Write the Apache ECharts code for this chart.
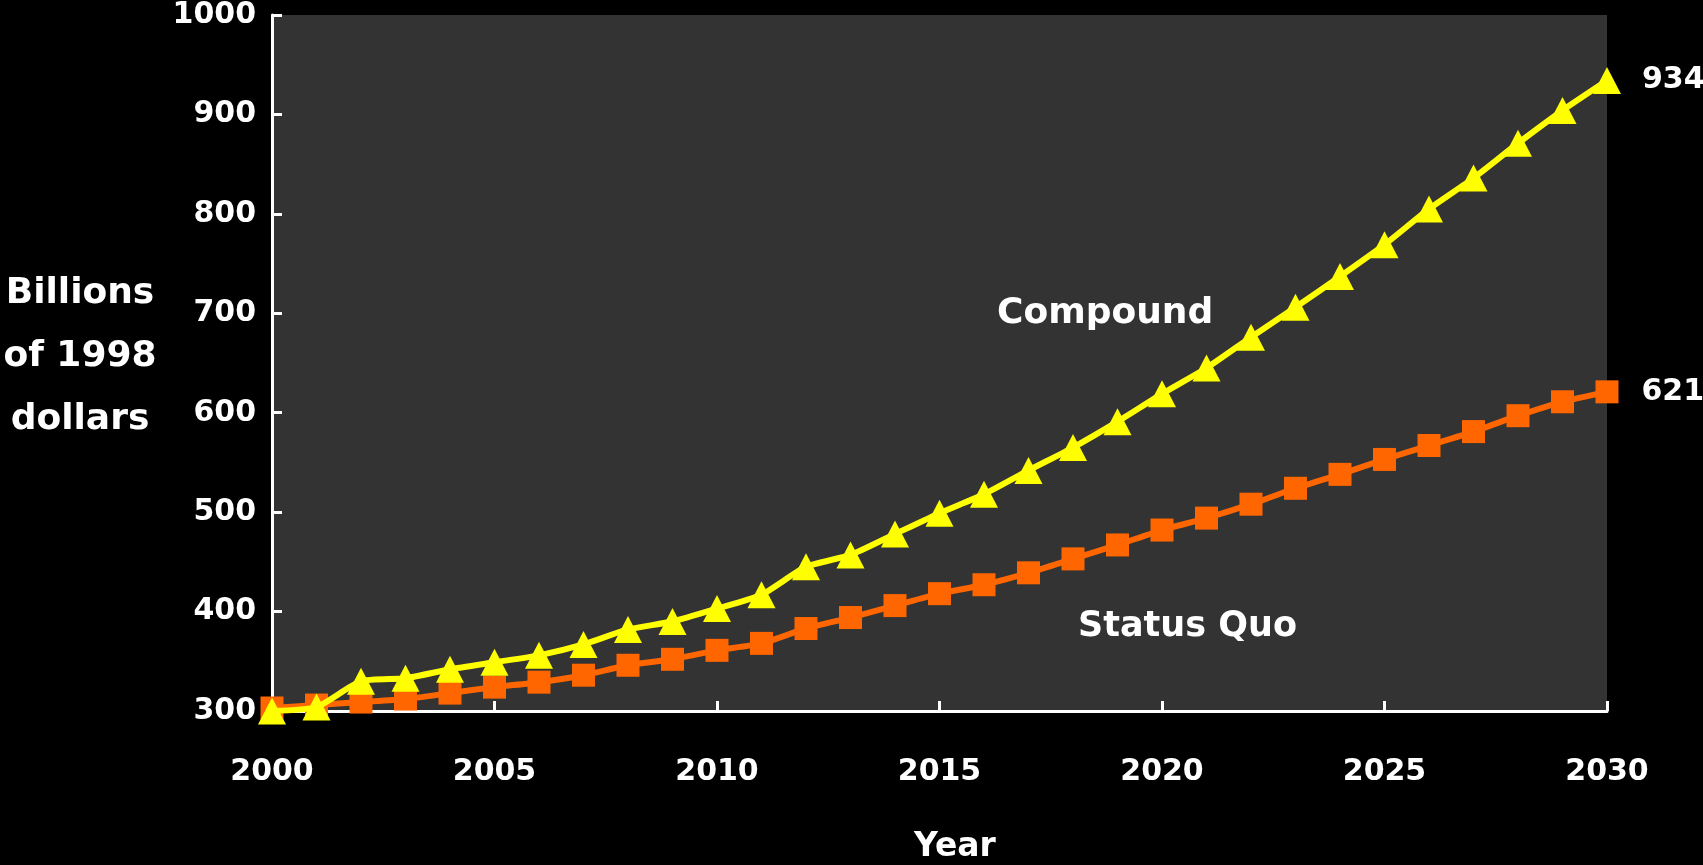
<!DOCTYPE html>
<html>
<head>
<meta charset="utf-8">
<script src="https://cdn.jsdelivr.net/npm/echarts@6/dist/echarts.min.js"></script>
<style>
html,body{margin:0;padding:0;background:#000;}
#c{width:1703px;height:865px;}
</style>
</head>
<body>
<div id="c"></div>
<script>
const years = [2000,2001,2002,2003,2004,2005,2006,2007,2008,2009,2010,2011,2012,2013,2014,2015,2016,2017,2018,2019,2020,2021,2022,2023,2024,2025,2026,2027,2028,2029,2030];
const compound = [300,304,330,333,342,349,356,367,382,390,403,417,445,457,478,499,518,542,565,591,619,645,676,706,737,769,805,836,871,904,934];
const statusQuo = [303,306,309,312,318,324,329,336,346,352,361,368,383,394,406,418,427,439,453,467,482,494,508,524,538,553,567,581,597,611,621];
const yTicks = [300,1000,100];   // min, max, step
const xTicks = [2000,2030,5];
const seriesNames = ['Status Quo','Compound'];
const yTitle = 'Billions\nof 1998\ndollars';
const xTitle = 'Year';

const FONT = '"DejaVu Sans", sans-serif';
const chart = echarts.init(document.getElementById('c'));

function pts(arr){ return years.map((y,i)=>[y,arr[i]]); }
function lastLabel(arr){
  return pts(arr).map((p,i)=> i===arr.length-1 ? {value:p, label:{show:true}} : p);
}

chart.setOption({
  backgroundColor:'#000000',
  animation:false,
  grid:{left:272,right:96,top:13,bottom:154,show:true,backgroundColor:'#333333',borderWidth:0,containLabel:false},
  xAxis:{
    type:'value', min:xTicks[0], max:xTicks[1], interval:xTicks[2],
    axisLine:{show:true,lineStyle:{color:'#ffffff',width:3}},
    axisTick:{show:true,inside:true,length:10,lineStyle:{color:'#ffffff',width:3}},
    splitLine:{show:false},
    axisLabel:{color:'#ffffff',fontFamily:FONT,fontWeight:'bold',fontSize:30,margin:46,formatter:v=>String(v)}
  },
  yAxis:{
    type:'value', min:yTicks[0], max:yTicks[1], interval:yTicks[2],
    axisLine:{show:true,lineStyle:{color:'#ffffff',width:3}},
    axisTick:{show:true,inside:true,length:10,lineStyle:{color:'#ffffff',width:3}},
    splitLine:{show:false},
    axisLabel:{color:'#ffffff',fontFamily:FONT,fontWeight:'bold',fontSize:30,margin:16,formatter:v=>String(v)}
  },
  series:[
    {
      name:seriesNames[0], type:'line', data:lastLabel(statusQuo), smooth:0.2, clip:false,
      symbol:'rect', symbolSize:23,
      lineStyle:{color:'#FF6600',width:6},
      itemStyle:{color:'#FF6600'},
      label:{show:false,position:'right',distance:23,color:'#ffffff',fontFamily:FONT,fontWeight:'bold',fontSize:30,formatter:p=>p.value[1]},
      z:2
    },
    {
      name:seriesNames[1], type:'line', data:lastLabel(compound), smooth:0.2, clip:false,
      symbol:'triangle', symbolSize:[28,27],
      lineStyle:{color:'#FFFF00',width:6},
      itemStyle:{color:'#FFFF00'},
      label:{show:false,position:'right',distance:21,color:'#ffffff',fontFamily:FONT,fontWeight:'bold',fontSize:30,formatter:p=>p.value[1]},
      z:3
    }
  ],
  graphic:[
    {type:'text',x:997,y:314,style:{text:seriesNames[1],fill:'#ffffff',font:'bold 36px '+FONT,verticalAlign:'middle'}},
    {type:'text',x:1078,y:627,style:{text:seriesNames[0],fill:'#ffffff',font:'bold 35px '+FONT,verticalAlign:'middle'}},
    {type:'text',x:80,y:357,style:{text:yTitle,fill:'#ffffff',font:'bold 36px '+FONT,align:'center',verticalAlign:'middle',lineHeight:63}},
    {type:'text',x:955,y:847,style:{text:xTitle,fill:'#ffffff',font:'bold 33px '+FONT,align:'center',verticalAlign:'middle'}}
  ]
});
</script>
</body>
</html>
